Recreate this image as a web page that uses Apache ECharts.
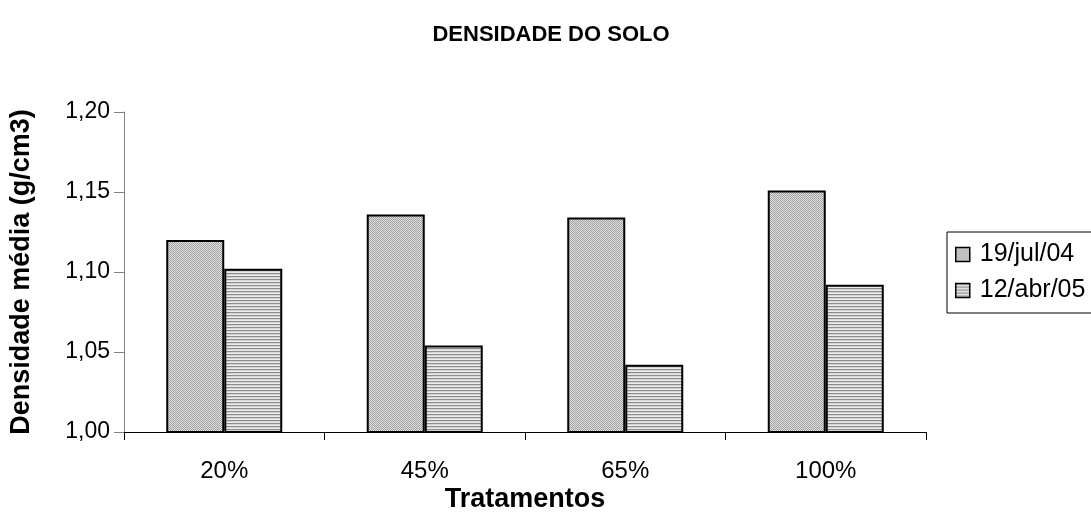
<!DOCTYPE html>
<html>
<head>
<meta charset="utf-8">
<script src="https://cdn.jsdelivr.net/npm/echarts@6/dist/echarts.min.js"></script>
<style>html,body{margin:0;padding:0;background:#fff;}#c{width:1091px;height:528px;}</style>
</head>
<body>
<div id="c"></div>
<script>
var categories = ['20%', '45%', '65%', '100%'];
var seriesNames = ['19/jul/04', '12/abr/05'];
var values1 = [1.120, 1.136, 1.134, 1.151];
var values2 = [1.102, 1.054, 1.042, 1.092];

function dotPattern() {
  var c = document.createElement('canvas');
  c.width = 2; c.height = 2;
  var g = c.getContext('2d');
  g.fillStyle = '#dedede'; g.fillRect(0, 0, 2, 2);
  g.fillStyle = '#a4a4a4'; g.fillRect(0, 0, 1, 1); g.fillRect(1, 1, 1, 1);
  return c;
}
function stripePattern() {
  var c = document.createElement('canvas');
  c.width = 3; c.height = 3;
  var g = c.getContext('2d');
  g.fillStyle = '#8c8c8c'; g.fillRect(0, 0, 3, 1);
  g.fillStyle = '#d4d4d4'; g.fillRect(0, 1, 3, 1);
  g.fillStyle = '#ececec'; g.fillRect(0, 2, 3, 1);
  return c;
}
var fill1 = { image: dotPattern(), repeat: 'repeat' };
var fill2 = { image: stripePattern(), repeat: 'repeat' };

var chart = echarts.init(document.getElementById('c'), null, { renderer: 'canvas' });
var font = 'Arial, "Liberation Sans", sans-serif';
chart.setOption({
  animation: false,
  backgroundColor: '#ffffff',
  title: {
    text: 'DENSIDADE DO SOLO',
    left: 546, top: 19, textAlign: 'center',
    textStyle: { fontFamily: font, fontSize: 22, fontWeight: 'bold', color: '#000' }
  },
  legend: {
    orient: 'vertical',
    left: 947, top: 232,
    padding: [10, 60, 10, 8],
    borderColor: '#000', borderWidth: 1,
    icon: 'rect',
    itemWidth: 14, itemHeight: 14,
    itemGap: 11,
    itemStyle: { borderColor: '#000', borderWidth: 1.5 },
    textStyle: { fontFamily: font, fontSize: 25, color: '#000', lineHeight: 25, padding: [0, 0, 0, 5] },
    data: seriesNames
  },
  grid: { left: 121, right: 165, top: 112, bottom: 96 },
  xAxis: {
    type: 'category',
    data: categories,
    name: 'Tratamentos',
    nameLocation: 'middle',
    nameGap: 54,
    nameMoveOverlap: false,
    nameTextStyle: { fontFamily: font, fontSize: 27, fontWeight: 'bold', color: '#000' },
    axisLine: { lineStyle: { color: '#000', width: 1 } },
    axisTick: { show: true, length: 8, lineStyle: { color: '#000' } },
    axisLabel: { fontFamily: font, fontSize: 24, color: '#000', margin: 27 }
  },
  yAxis: {
    type: 'value',
    min: 1.00, max: 1.20, interval: 0.05,
    name: 'Densidade média (g/cm3)',
    nameLocation: 'middle',
    nameGap: 89,
    nameMoveOverlap: false,
    nameTextStyle: { fontFamily: font, fontSize: 27, fontWeight: 'bold', color: '#000' },
    axisLine: { show: true, lineStyle: { color: '#808080', width: 1 } },
    axisTick: { show: true, length: 10, lineStyle: { color: '#808080' } },
    splitLine: { show: false },
    axisLabel: {
      fontFamily: font, fontSize: 23, color: '#000', margin: 14,
      formatter: function (v) { return v.toFixed(2).replace('.', ','); }
    }
  },
  series: [
    {
      name: seriesNames[0], type: 'bar', data: values1,
      barGap: '0%', barWidth: 58,
      itemStyle: { color: fill1, borderColor: '#000', borderWidth: 2 }
    },
    {
      name: seriesNames[1], type: 'bar', data: values2,
      barGap: '0%', barWidth: 58,
      itemStyle: { color: fill2, borderColor: '#000', borderWidth: 2 }
    }
  ]
});
</script>
</body>
</html>
